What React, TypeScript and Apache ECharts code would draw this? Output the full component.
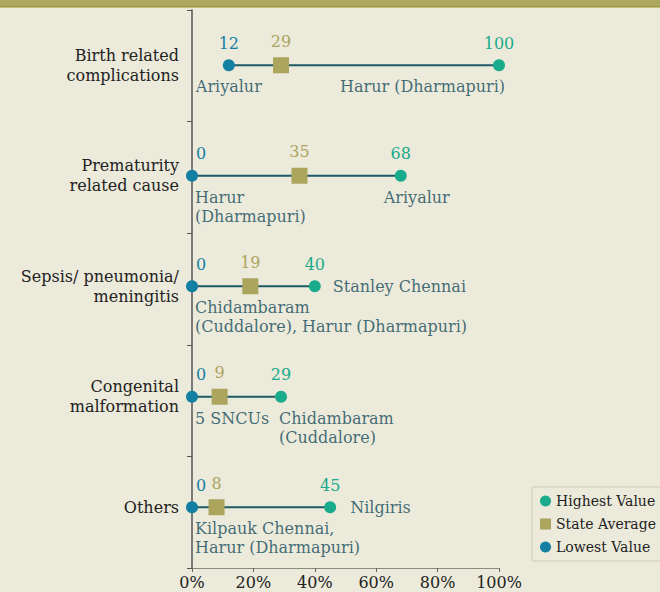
import React, { useEffect, useRef } from "react";
import * as echarts from "echarts";

const categories = [
  "Birth related\ncomplications",
  "Prematurity\nrelated cause",
  "Sepsis/ pneumonia/\nmeningitis",
  "Congenital\nmalformation",
  "Others",
];
const highest = [100, 68, 40, 29, 45];
const average = [29, 35, 19, 9, 8];
const lowest = [12, 0, 0, 0, 0];
const highestPlaces = [
  "Harur (Dharmapuri)",
  "Ariyalur",
  "Stanley Chennai",
  "Chidambaram\n(Cuddalore)",
  "Nilgiris",
];
const lowestPlaces = [
  "Ariyalur",
  "Harur\n(Dharmapuri)",
  "Chidambaram\n(Cuddalore), Harur (Dharmapuri)",
  "5 SNCUs",
  "Kilpauk Chennai,\nHarur (Dharmapuri)",
];
const seriesNames = ["Highest Value", "State Average", "Lowest Value"];

const FONT = "DejaVu Serif";
const C_HIGH = "#19ab8b";
const C_AVG = "#aca55e";
const C_LOW = "#137fa2";
const C_LINE = "#1e5a66";
const C_NAME = "#134a5a";

const highNameLayout: any[] = [
  { position: "bottom", align: "right", offset: [6, 0] },
  { position: "bottom", align: "center", offset: [16, 0] },
  { position: "right", distance: 12 },
  { position: "bottom", align: "left", offset: [-2, 0] },
  { position: "right", distance: 14 },
];

export default function App() {
  const ref = useRef<HTMLDivElement>(null);
  useEffect(() => {
    const chart = echarts.init(ref.current!, null, { renderer: "svg" });
    const idx = categories.map((_, i) => i);
    const lineSeries = categories.map((_, i) => ({
      type: "line",
      yAxisIndex: 1,
      data: [
        [lowest[i], i],
        [highest[i], i],
      ],
      symbol: "none",
      silent: true,
      z: 1,
      lineStyle: { color: C_LINE, width: 2 },
    }));
    const valLabel = (color: string) => ({
      show: true,
      position: "top",
      distance: 8,
      color,
      fontFamily: FONT,
      fontSize: 16,
      formatter: (p: any) => String(p.value[0]),
    });
    const nameLabel = (list: string[]) => ({
      show: true,
      position: "bottom",
      distance: 6,
      color: C_NAME,
      fontFamily: FONT,
      fontSize: 16,
      lineHeight: 19,
      formatter: (p: any) => list[p.dataIndex],
    });
    const option: any = {
      animation: false,
      backgroundColor: "#eceada",
      graphic: [
        { type: "rect", shape: { x: 0, y: 0, width: 660, height: 6 }, style: { fill: "#ada85f" } },
        { type: "rect", shape: { x: 0, y: 6, width: 660, height: 1.5 }, style: { fill: "#9c963f" } },
      ],
      grid: { left: 192, right: 161, top: 10, bottom: 24 },
      xAxis: {
        type: "value",
        min: 0,
        max: 100,
        interval: 20,
        axisLine: { show: true, onZero: false, lineStyle: { color: "#8a8a80", width: 1 } },
        axisTick: { show: true, length: 4, lineStyle: { color: "#666" } },
        splitLine: { show: false },
        axisLabel: {
          formatter: "{value}%",
          color: "#222",
          fontFamily: FONT,
          fontSize: 16,
          margin: 6,
        },
      },
      yAxis: [
        {
          type: "category",
          data: categories,
          inverse: true,
          boundaryGap: true,
          axisLine: { show: true, onZero: false, lineStyle: { color: "#555", width: 1.5 } },
          axisTick: { show: true, length: 5, alignWithLabel: false, lineStyle: { color: "#555" } },
          axisLabel: { show: false },
        },
        {
          type: "value",
          inverse: true,
          position: "left",
          min: -0.5,
          max: 4.55,
          axisLine: { show: false, onZero: false },
          axisTick: { show: false },
          splitLine: { show: false },
          axisLabel: {
            customValues: idx,
            formatter: (v: number) => categories[Math.round(v)] ?? "",
            color: "#222",
            fontFamily: FONT,
            fontSize: 16,
            lineHeight: 20,
            margin: 13,
            align: "right",
          },
        },
      ],
      legend: {
        orient: "vertical",
        left: 532,
        top: 487,
        itemWidth: 11,
        itemHeight: 11,
        itemGap: 9,
        padding: [7, 10, 7, 8],
        borderColor: "#cfccb4",
        borderWidth: 1,
        textStyle: { color: "#222", fontFamily: FONT, fontSize: 14 },
        data: [
          { name: seriesNames[0], icon: "circle" },
          { name: seriesNames[1], icon: "rect" },
          { name: seriesNames[2], icon: "circle" },
        ],
      },
      series: [
        ...lineSeries,
        {
          name: seriesNames[2],
          type: "scatter",
          yAxisIndex: 1,
          symbol: "circle",
          symbolSize: 12,
          z: 3,
          itemStyle: { color: C_LOW, opacity: 1 },
          data: lowest.map((v, i) => ({
            value: [v, i],
            label: v === 0 ? { offset: [9, 0] } : {},
          })),
          label: valLabel(C_LOW),
        },
        {
          name: seriesNames[1],
          type: "scatter",
          yAxisIndex: 1,
          symbol: "rect",
          symbolSize: 16,
          z: 4,
          itemStyle: { color: C_AVG, opacity: 1 },
          data: average.map((v, i) => [v, i]),
          label: valLabel(C_AVG),
        },
        {
          name: seriesNames[0],
          type: "scatter",
          yAxisIndex: 1,
          symbol: "circle",
          symbolSize: 12,
          z: 3,
          itemStyle: { color: C_HIGH, opacity: 1 },
          data: highest.map((v, i) => [v, i]),
          label: valLabel(C_HIGH),
        },
        {
          name: "lowNames",
          type: "scatter",
          yAxisIndex: 1,
          symbolSize: 12,
          silent: true,
          z: 2,
          itemStyle: { color: "rgba(0,0,0,0)" },
          data: lowest.map((v, i) => ({
            value: [v, i],
            label: v === 0 ? { align: "left", offset: [3, 0] } : { align: "center" },
          })),
          label: nameLabel(lowestPlaces),
        },
        {
          name: "highNames",
          type: "scatter",
          yAxisIndex: 1,
          symbolSize: 12,
          silent: true,
          z: 2,
          itemStyle: { color: "rgba(0,0,0,0)" },
          data: highest.map((v, i) => ({
            value: [v, i],
            label: highNameLayout[i],
          })),
          label: nameLabel(highestPlaces),
        },
      ],
    };
    chart.setOption(option);
    return () => chart.dispose();
  }, []);
  return <div ref={ref} style={{ width: 660, height: 592, position: "fixed", left: 0, top: 0 }} />;
}
